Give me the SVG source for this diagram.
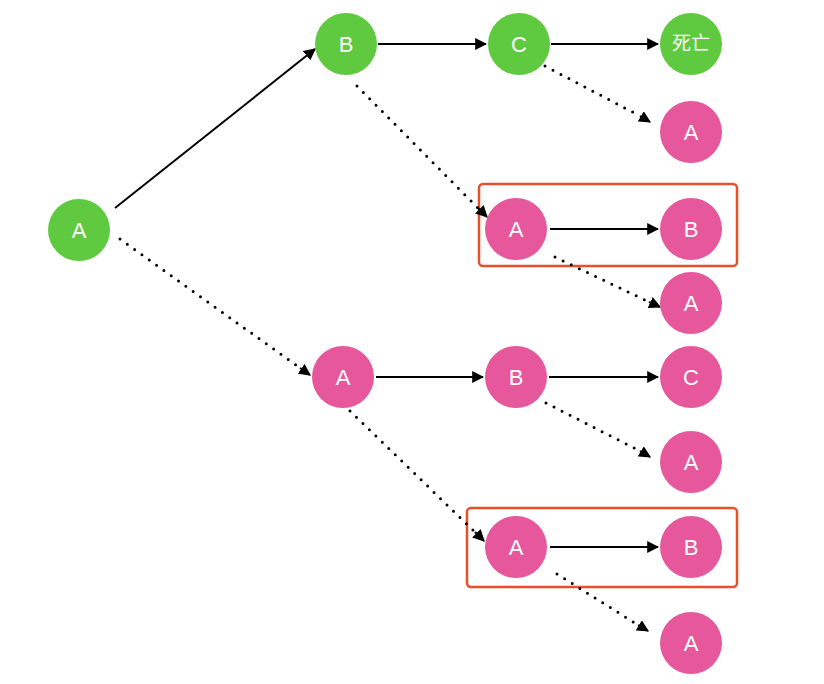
<svg xmlns="http://www.w3.org/2000/svg" width="824" height="684" viewBox="0 0 824 684">
<defs>
<style>
.g{fill:#5fca40}
.p{fill:#e6589b}
.t{font-family:"Liberation Sans",Arial,"Noto Sans CJK SC",sans-serif;font-size:22px;fill:#fff;text-anchor:middle;dominant-baseline:central}
.s{stroke:#000;stroke-width:2;fill:none}
.d{stroke:#000;stroke-width:3;fill:none;stroke-dasharray:0 9;stroke-linecap:round}
.box{fill:none;stroke:#e8502a;stroke-width:2.5}
</style>
<marker id="ah" viewBox="0 0 10 10" refX="9" refY="5" markerWidth="12" markerHeight="12" markerUnits="userSpaceOnUse" orient="auto">
<path d="M0,0 L10,5 L0,10 z" fill="#000"/>
</marker>
</defs>
<rect width="824" height="684" fill="#fff"/>
<g id="boxes">
<rect class="box" x="479" y="184" width="258" height="82" rx="4"/>
<rect class="box" x="467" y="508" width="270" height="79" rx="4"/>
</g>
<g id="connectors">
<line class="s" x1="115" y1="208" x2="315" y2="49" marker-end="url(#ah)"/>
<line class="d" x1="120" y1="239" x2="300" y2="368"/>
<line class="s" x1="300" y1="368" x2="310" y2="375" marker-end="url(#ah)"/>
<line class="s" x1="378" y1="44" x2="486" y2="44" marker-end="url(#ah)"/>
<line class="s" x1="551" y1="44" x2="658" y2="44" marker-end="url(#ah)"/>
<line class="d" x1="545" y1="66" x2="640" y2="116"/>
<line class="s" x1="640" y1="116" x2="650" y2="122" marker-end="url(#ah)"/>
<line class="d" x1="357" y1="86" x2="478" y2="208"/>
<line class="s" x1="478" y1="208" x2="487" y2="217" marker-end="url(#ah)"/>
<line class="s" x1="550" y1="229" x2="658" y2="229" marker-end="url(#ah)"/>
<line class="d" x1="555" y1="257" x2="649" y2="302"/>
<line class="s" x1="649" y1="302" x2="660" y2="307" marker-end="url(#ah)"/>
<line class="s" x1="376" y1="377" x2="483" y2="377" marker-end="url(#ah)"/>
<line class="s" x1="549" y1="377" x2="658" y2="377" marker-end="url(#ah)"/>
<line class="d" x1="546" y1="403" x2="640" y2="451"/>
<line class="s" x1="640" y1="451" x2="650" y2="457" marker-end="url(#ah)"/>
<line class="d" x1="350" y1="411" x2="475" y2="532"/>
<line class="s" x1="475" y1="532" x2="484" y2="541" marker-end="url(#ah)"/>
<line class="s" x1="550" y1="547" x2="658" y2="547" marker-end="url(#ah)"/>
<line class="d" x1="557" y1="574" x2="638" y2="625"/>
<line class="s" x1="638" y1="625" x2="648" y2="631" marker-end="url(#ah)"/>
</g>
<g id="n_root"><circle class="g" cx="79" cy="230" r="31"/><text class="t" x="79" y="230">A</text></g>
<g id="n_B1"><circle class="g" cx="346" cy="44" r="31"/><text class="t" x="346" y="44">B</text></g>
<g id="n_C1"><circle class="g" cx="519" cy="44" r="31"/><text class="t" x="519" y="44">C</text></g>
<g id="n_dead"><circle class="g" cx="691" cy="44" r="31"/><text class="t" x="691" y="43" style="font-size:19px">死亡</text></g>
<g id="n_A2"><circle class="p" cx="691" cy="132" r="31"/><text class="t" x="691" y="132">A</text></g>
<g id="n_A3"><circle class="p" cx="516" cy="229" r="31"/><text class="t" x="516" y="229">A</text></g>
<g id="n_B3"><circle class="p" cx="691" cy="229" r="31"/><text class="t" x="691" y="229">B</text></g>
<g id="n_A4"><circle class="p" cx="691" cy="303" r="31"/><text class="t" x="691" y="303">A</text></g>
<g id="n_A5"><circle class="p" cx="343" cy="377" r="31"/><text class="t" x="343" y="377">A</text></g>
<g id="n_B5"><circle class="p" cx="516" cy="377" r="31"/><text class="t" x="516" y="377">B</text></g>
<g id="n_C5"><circle class="p" cx="691" cy="377" r="31"/><text class="t" x="691" y="377">C</text></g>
<g id="n_A6"><circle class="p" cx="691" cy="462" r="31"/><text class="t" x="691" y="462">A</text></g>
<g id="n_A7"><circle class="p" cx="516" cy="547" r="31"/><text class="t" x="516" y="547">A</text></g>
<g id="n_B7"><circle class="p" cx="691" cy="547" r="31"/><text class="t" x="691" y="547">B</text></g>
<g id="n_A8"><circle class="p" cx="691" cy="643" r="31"/><text class="t" x="691" y="643">A</text></g>
</svg>
